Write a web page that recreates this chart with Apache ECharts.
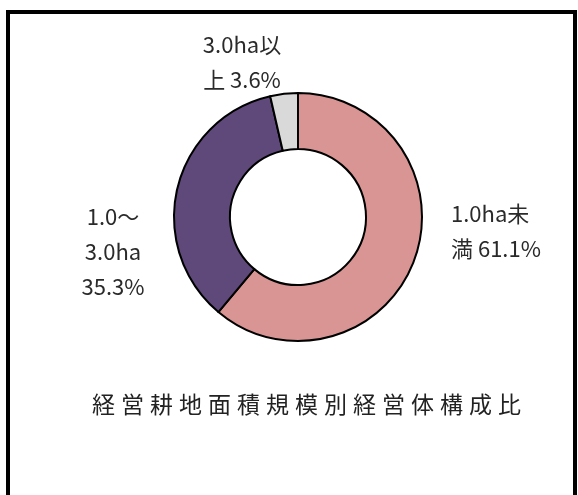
<!DOCTYPE html>
<html>
<head>
<meta charset="utf-8">
<script src="https://cdn.jsdelivr.net/npm/echarts@6/dist/echarts.min.js"></script>
<style>
html,body{margin:0;padding:0;background:#fff;}
#c{width:578px;height:495px;}
</style>
</head>
<body>
<div id="c"></div>
<script>
// ---- data ----
var categories = ['1.0ha未満', '1.0～3.0ha', '3.0ha以上'];
var values = [61.1, 35.3, 3.6];
var labelTexts = ['1.0ha未\n満 61.1%', '1.0～\n3.0ha\n35.3%', '3.0ha以\n上 3.6%'];
var titleText = '経営耕地面積規模別経営体構成比';

// ---- styles / layout ----
var colors = ['#D99594', '#5F497A', '#D9D9D9'];
var labelLayoutPos = [
  {x: 451, y: 231, align: 'left'},
  {x: 113, y: 252, align: 'center'},
  {x: 242, y: 62, align: 'center'}
];
var FONT = '"Noto Sans CJK JP", "Noto Sans", sans-serif';

var titleRich = titleText.split('').map(function (ch) { return '{c|' + ch + '}'; }).join('');

var chart = echarts.init(document.getElementById('c'), null, {renderer: 'canvas'});
chart.setOption({
  backgroundColor: '#ffffff',
  animation: false,
  graphic: [{
    type: 'rect',
    shape: {x: 8, y: 12, width: 567, height: 600},
    style: {fill: 'none', stroke: '#000', lineWidth: 4},
    silent: true,
    z: 0
  }, {
    type: 'text',
    left: 89,
    top: 393,
    style: {
      text: titleRich,
      rich: {c: {width: 29, align: 'center', fontSize: 23, fontFamily: FONT, fill: '#222', lineHeight: 25}}
    },
    z: 10
  }],
  series: [{
    type: 'pie',
    center: [298, 217],
    radius: [68, 124],
    startAngle: 90,
    clockwise: true,
    itemStyle: {borderColor: '#000', borderWidth: 2},
    color: colors,
    label: {
      show: true,
      position: 'outside',
      formatter: function (p) { return labelTexts[p.dataIndex]; },
      fontSize: 22,
      fontFamily: FONT,
      color: '#2a2a2a',
      lineHeight: 35
    },
    labelLine: {show: false},
    labelLayout: function (params) {
      var p = labelLayoutPos[params.dataIndex];
      return {x: p.x, y: p.y, align: p.align, verticalAlign: 'middle'};
    },
    emphasis: {disabled: true},
    data: categories.map(function (c, i) { return {name: c, value: values[i]}; })
  }]
});
</script>
</body>
</html>
